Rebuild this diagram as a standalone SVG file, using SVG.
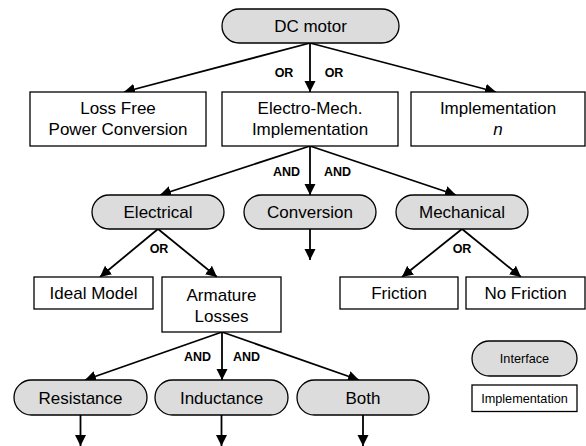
<svg xmlns="http://www.w3.org/2000/svg" width="586" height="446" viewBox="0 0 586 446">
  <defs>
    <style>
      .pill { fill: #dcdcdc; stroke: #000; stroke-width: 1.3; }
      .box { fill: #fff; stroke: #000; stroke-width: 1.3; }
      .lbl { font-family: "Liberation Sans", Arial, sans-serif; font-size: 17px; fill: #000; text-anchor: middle; }
      .leg { font-family: "Liberation Sans", Arial, sans-serif; font-size: 12.7px; fill: #000; text-anchor: middle; }
      .op { font-family: "Liberation Sans", Arial, sans-serif; font-size: 12.5px; font-weight: bold; fill: #000; text-anchor: middle; }
      .edge { stroke: #000; stroke-width: 1.8; fill: none; marker-end: url(#head); }
    </style>
    <marker id="head" markerUnits="userSpaceOnUse" markerWidth="12" markerHeight="12" viewBox="0 0 12 12" refX="11" refY="6" orient="auto">
      <path d="M0,0.5 L11,6 L0,11.5 Z" fill="#000"/>
    </marker>
  </defs>

  <rect width="586" height="446" fill="#fff"/>

  <!-- connectors -->
  <g id="connectors">
    <path class="edge" d="M310,43 L124,92"/>
    <path class="edge" d="M310,43 L310,92"/>
    <path class="edge" d="M310,43 L496,92"/>
    <path class="edge" d="M310,146 L160,195"/>
    <path class="edge" d="M310,146 L310,195"/>
    <path class="edge" d="M310,146 L456,195"/>
    <path class="edge" d="M310,229 L310,260"/>
    <path class="edge" d="M158,229 L100,277"/>
    <path class="edge" d="M158,229 L217,277"/>
    <path class="edge" d="M462,229 L402,277"/>
    <path class="edge" d="M462,229 L521,277"/>
    <path class="edge" d="M222,332 L85,380"/>
    <path class="edge" d="M222,332 L222,380"/>
    <path class="edge" d="M222,332 L359,380"/>
    <path class="edge" d="M80.5,415 L80.5,446"/>
    <path class="edge" d="M221.5,415 L221.5,446"/>
    <path class="edge" d="M363,415 L363,446"/>
    <text class="op" x="284" y="77">OR</text>
    <text class="op" x="334" y="77">OR</text>
    <text class="op" x="286.5" y="176">AND</text>
    <text class="op" x="337.5" y="176">AND</text>
    <text class="op" x="159" y="252.5">OR</text>
    <text class="op" x="462" y="253">OR</text>
    <text class="op" x="197.5" y="361">AND</text>
    <text class="op" x="246.5" y="361">AND</text>
  </g>

  <g id="dc-motor">
    <rect class="pill" x="222" y="9" width="177" height="34" rx="17"/>
    <text class="lbl" x="310.5" y="32">DC motor</text>
  </g>

  <g id="loss-free">
    <rect class="box" x="30" y="92" width="176" height="54"/>
    <text class="lbl" x="118" y="114">Loss Free</text>
    <text class="lbl" x="118" y="135">Power Conversion</text>
  </g>

  <g id="electro-mech">
    <rect class="box" x="222" y="92" width="176" height="54"/>
    <text class="lbl" x="310" y="114">Electro-Mech.</text>
    <text class="lbl" x="310" y="135">Implementation</text>
  </g>

  <g id="implementation-n">
    <rect class="box" x="411" y="92" width="174" height="54"/>
    <text class="lbl" x="498" y="114">Implementation</text>
    <text class="lbl" x="498" y="135" font-style="italic">n</text>
  </g>

  <g id="electrical">
    <rect class="pill" x="92" y="195" width="132" height="34" rx="17"/>
    <text class="lbl" x="158" y="218">Electrical</text>
  </g>

  <g id="conversion">
    <rect class="pill" x="244" y="195" width="132" height="34" rx="17"/>
    <text class="lbl" x="310" y="218">Conversion</text>
  </g>

  <g id="mechanical">
    <rect class="pill" x="396" y="195" width="132" height="34" rx="17"/>
    <text class="lbl" x="462" y="218">Mechanical</text>
  </g>

  <g id="ideal-model">
    <rect class="box" x="34" y="277" width="119" height="32"/>
    <text class="lbl" x="93.5" y="299">Ideal Model</text>
  </g>

  <g id="armature-losses">
    <rect class="box" x="162" y="277" width="119" height="55"/>
    <text class="lbl" x="221.5" y="301">Armature</text>
    <text class="lbl" x="221.5" y="322">Losses</text>
  </g>

  <g id="friction">
    <rect class="box" x="340" y="277" width="118" height="32"/>
    <text class="lbl" x="399" y="299">Friction</text>
  </g>

  <g id="no-friction">
    <rect class="box" x="466" y="277" width="119" height="32"/>
    <text class="lbl" x="525.5" y="299">No Friction</text>
  </g>

  <g id="resistance">
    <rect class="pill" x="14" y="380" width="133" height="35" rx="17.5"/>
    <text class="lbl" x="80.5" y="403.5">Resistance</text>
  </g>

  <g id="inductance">
    <rect class="pill" x="155" y="380" width="133" height="35" rx="17.5"/>
    <text class="lbl" x="221.5" y="403.5">Inductance</text>
  </g>

  <g id="both">
    <rect class="pill" x="297" y="380" width="132" height="35" rx="17.5"/>
    <text class="lbl" x="363" y="403.5">Both</text>
  </g>

  <g id="legend-interface">
    <rect class="pill" x="472" y="341" width="105" height="35" rx="17.5"/>
    <text class="leg" x="524.5" y="363">Interface</text>
  </g>

  <g id="legend-implementation">
    <rect class="box" x="472" y="385" width="105" height="26.5"/>
    <text class="leg" x="524.5" y="402.5">Implementation</text>
  </g>
</svg>
